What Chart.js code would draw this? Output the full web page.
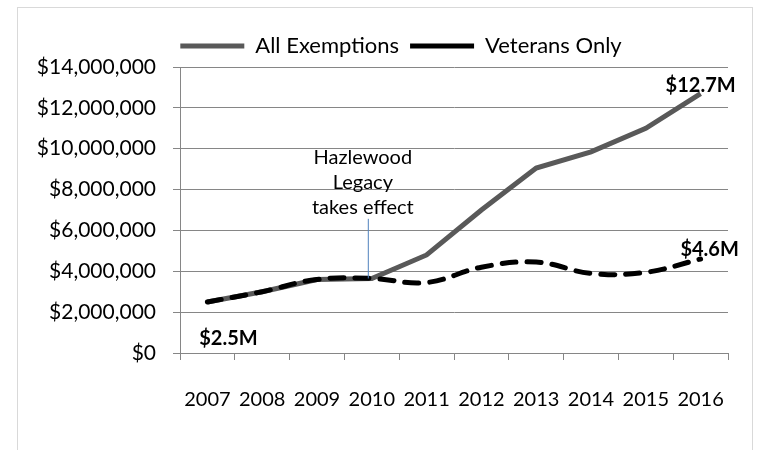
<!DOCTYPE html>
<html>
<head>
<meta charset="utf-8">
<script src="https://cdn.jsdelivr.net/npm/chart.js@4/dist/chart.umd.min.js"></script>
<style>
  html, body { margin: 0; padding: 0; background: #fff; }
  #frame { position: absolute; left: 17px; top: 7px; width: 734px; height: 470px; border: 1px solid #d9d9d9; }
  #wrap { position: absolute; left: 0; top: 0; width: 759px; height: 450px; }
</style>
</head>
<body>
<div id="frame"></div>
<div id="wrap"><canvas id="c" width="759" height="450"></canvas></div>
<script>
const years = ['2007','2008','2009','2010','2011','2012','2013','2014','2015','2016'];
const allExemptions = [2500000, 3000000, 3600000, 3650000, 4800000, 7000000, 9050000, 9850000, 11000000, 12700000];
const veteransOnly = [2500000, 3000000, 3600000, 3650000, 3450000, 4200000, 4450000, 3900000, 3950000, 4600000];
const yTicks = [0, 2000000, 4000000, 6000000, 8000000, 10000000, 12000000, 14000000];
const noteLines = ['Hazlewood', 'Legacy', 'takes effect'];
const startLabel = '$2.5M';
const endAllLabel = '$12.7M';
const endVetLabel = '$4.6M';

const FONT = 'Lato, "Open Sans", sans-serif';

const legendShift = {
  id: 'legendShift',
  afterLayout(chart) {
    if (chart.legend) { chart.legend.left += 74; }
  }
};

const annot = {
  id: 'annot',
  afterDatasetsDraw(chart) {
    const ctx = chart.ctx;
    const x = chart.scales.x, y = chart.scales.y;
    ctx.save();
    const nx = x.getPixelForValue(3) - 4;
    ctx.fillStyle = '#000';
    ctx.font = '20px ' + FONT;
    ctx.textAlign = 'center';
    ctx.textBaseline = 'middle';
    const ny = y.getPixelForValue(9800000) + 5;
    noteLines.forEach((t, i) => ctx.fillText(t, nx - 5, ny + i * 25));
    ctx.strokeStyle = '#4f81bd';
    ctx.lineWidth = 1;
    ctx.beginPath();
    ctx.moveTo(nx + 0.5, ny + 2 * 25 + 11);
    ctx.lineTo(nx + 0.5, y.getPixelForValue(veteransOnly[3]));
    ctx.stroke();
    ctx.font = 'bold 20px ' + FONT;
    ctx.fillText(startLabel, x.getPixelForValue(0) + 21, y.getPixelForValue(veteransOnly[0]) + 37);
    ctx.fillText(endAllLabel, x.getPixelForValue(9), y.getPixelForValue(allExemptions[9]) - 8);
    ctx.fillText(endVetLabel, x.getPixelForValue(9) + 9, y.getPixelForValue(veteransOnly[9]) - 9);
    ctx.restore();
  }
};

new Chart(document.getElementById('c'), {
  type: 'line',
  data: {
    labels: years,
    datasets: [
      {
        label: 'All Exemptions',
        data: allExemptions,
        borderColor: '#595959',
        backgroundColor: '#595959',
        borderWidth: 5,
        pointRadius: 0,
        tension: 0,
        order: 2
      },
      {
        label: 'Veterans Only',
        data: veteransOnly,
        borderColor: '#000000',
        backgroundColor: '#000000',
        borderWidth: 5,
        borderDash: [14, 11],
        borderCapStyle: 'round',
        pointRadius: 0,
        tension: 0.4,
        order: 1
      }
    ]
  },
  options: {
    responsive: false,
    animation: false,
    layout: { padding: { left: 0, right: 31, top: 24, bottom: 0 } },
    plugins: {
      tooltip: { enabled: false },
      legend: {
        position: 'top',
        labels: {
          usePointStyle: true,
          pointStyle: 'line',
          pointStyleWidth: 64,
          color: '#000',
          font: { family: FONT, size: 22 },
          padding: 11,
          sort: (a, b) => a.datasetIndex - b.datasetIndex
        }
      }
    },
    scales: {
      x: {
        offset: true,
        grid: { display: true, drawOnChartArea: false, drawTicks: true, tickLength: 7, offset: true, color: '#868686' },
        border: { color: '#868686', width: 1 },
        ticks: { color: '#000', font: { family: FONT, size: 20 }, padding: 28, maxRotation: 0, autoSkip: false },
        afterFit(s) { s.height = 97; }
      },
      y: {
        min: 0,
        max: 14000000,
        afterBuildTicks(s) { s.ticks = yTicks.map(v => ({ value: v })); },
        grid: { color: '#868686', lineWidth: 1, tickLength: 7 },
        border: { color: '#868686', width: 1 },
        ticks: {
          color: '#000',
          font: { family: FONT, size: 21 },
          padding: 17,
          callback: v => '$' + Number(v).toLocaleString('en-US')
        },
        afterFit(s) { s.width = 180; }
      }
    }
  },
  plugins: [annot, legendShift]
});
</script>
</body>
</html>
